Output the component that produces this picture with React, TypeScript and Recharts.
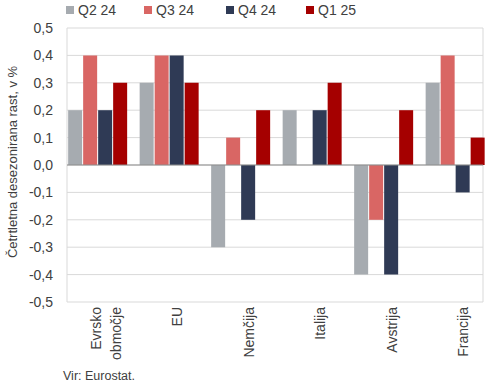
import { BarChart, Bar, XAxis, YAxis, CartesianGrid, Legend, ReferenceLine } from "recharts";

const categories = ["Evrsko območje", "EU", "Nemčija", "Italija", "Avstrija", "Francija"];
const q2_24 = [0.2, 0.3, -0.3, 0.2, -0.4, 0.3];
const q3_24 = [0.4, 0.4, 0.1, 0.0, -0.2, 0.4];
const q4_24 = [0.2, 0.4, -0.2, 0.2, -0.4, -0.1];
const q1_25 = [0.3, 0.3, 0.2, 0.3, 0.2, 0.1];
const yTicks = [-0.5, -0.4, -0.3, -0.2, -0.1, 0, 0.1, 0.2, 0.3, 0.4, 0.5];

const series = [
  { key: "q2", name: "Q2 24", color: "#A6ABB0", values: q2_24 },
  { key: "q3", name: "Q3 24", color: "#D96664", values: q3_24 },
  { key: "q4", name: "Q4 24", color: "#2F3A55", values: q4_24 },
  { key: "q1", name: "Q1 25", color: "#A50000", values: q1_25 },
];

const data = categories.map((cat, i) => {
  const row: Record<string, string | number> = { cat };
  series.forEach((s) => (row[s.key] = s.values[i]));
  return row;
});

const FONT = "'Liberation Sans', Arial, sans-serif";
const legendX = [66, 144, 226, 306];

const LegendBox = () => (
  <div style={{ position: "relative", height: 28, fontFamily: FONT, fontSize: 14, color: "#404040" }}>
    {series.map((s, i) => (
      <div key={s.key} style={{ position: "absolute", left: legendX[i], top: 2, display: "flex", alignItems: "center" }}>
        <span style={{ width: 8, height: 8, background: s.color, display: "inline-block", marginRight: 4 }} />
        <span>{s.name}</span>
      </div>
    ))}
  </div>
);

const CatTick = ({ x, y, payload }: any) => {
  const lines = String(payload.value).split(" ");
  return (
    <g transform={`translate(${x + 9},${y - 3})`}>
      <text transform="rotate(-90)" textAnchor="end" fontSize={14} fill="#404040" fontFamily={FONT}>
        {lines.map((l, i) => (
          <tspan key={i} x={0} y={(i - (lines.length - 1) / 2) * 20} dominantBaseline="central">
            {l}
          </tspan>
        ))}
      </text>
    </g>
  );
};

const fmt = (v: number) => v.toFixed(1).replace(".", ",");

export default function App() {
  return (
    <div style={{ position: "absolute", left: 0, top: 0, width: 490, height: 387, background: "#fff" }}>
      <BarChart
        width={490}
        height={387}
        data={data}
        margin={{ top: 0, right: 7, bottom: 0, left: 0 }}
        barCategoryGap="10%"
        barGap={1}
      >
        <Legend verticalAlign="top" content={() => <LegendBox />} />
        <CartesianGrid
          stroke="#D9D9D9"
          verticalCoordinatesGenerator={({ offset }: any) => [offset.left, offset.left + offset.width]}
        />
        <XAxis
          dataKey="cat"
          interval={0}
          height={85}
          axisLine={false}
          tickLine={false}
          tick={<CatTick />}
          padding={{ left: -6, right: -7 }}
        />
        <YAxis
          width={67}
          domain={[-0.5, 0.5]}
          ticks={yTicks}
          tickFormatter={fmt}
          axisLine={false}
          tickLine={false}
          tickMargin={8}
          tick={{ fontSize: 14, fill: "#404040", fontFamily: FONT }}
          label={{
            content: () => (
              <text
                x={12}
                y={162}
                transform="rotate(-90 12 162)"
                textAnchor="middle"
                dominantBaseline="central"
                fontSize={13}
                fill="#404040"
                fontFamily={FONT}
              >
                Četrtletna desezonirana rast, v %
              </text>
            ),
          }}
        />
        <ReferenceLine y={0} stroke="#8C8C8C" />
        {series.map((s) => (
          <Bar key={s.key} dataKey={s.key} name={s.name} fill={s.color} isAnimationActive={false} />
        ))}
      </BarChart>
      <div style={{ position: "absolute", left: 63, top: 369, fontFamily: FONT, fontSize: 12.5, color: "#404040" }}>
        Vir: Eurostat.
      </div>
    </div>
  );
}
